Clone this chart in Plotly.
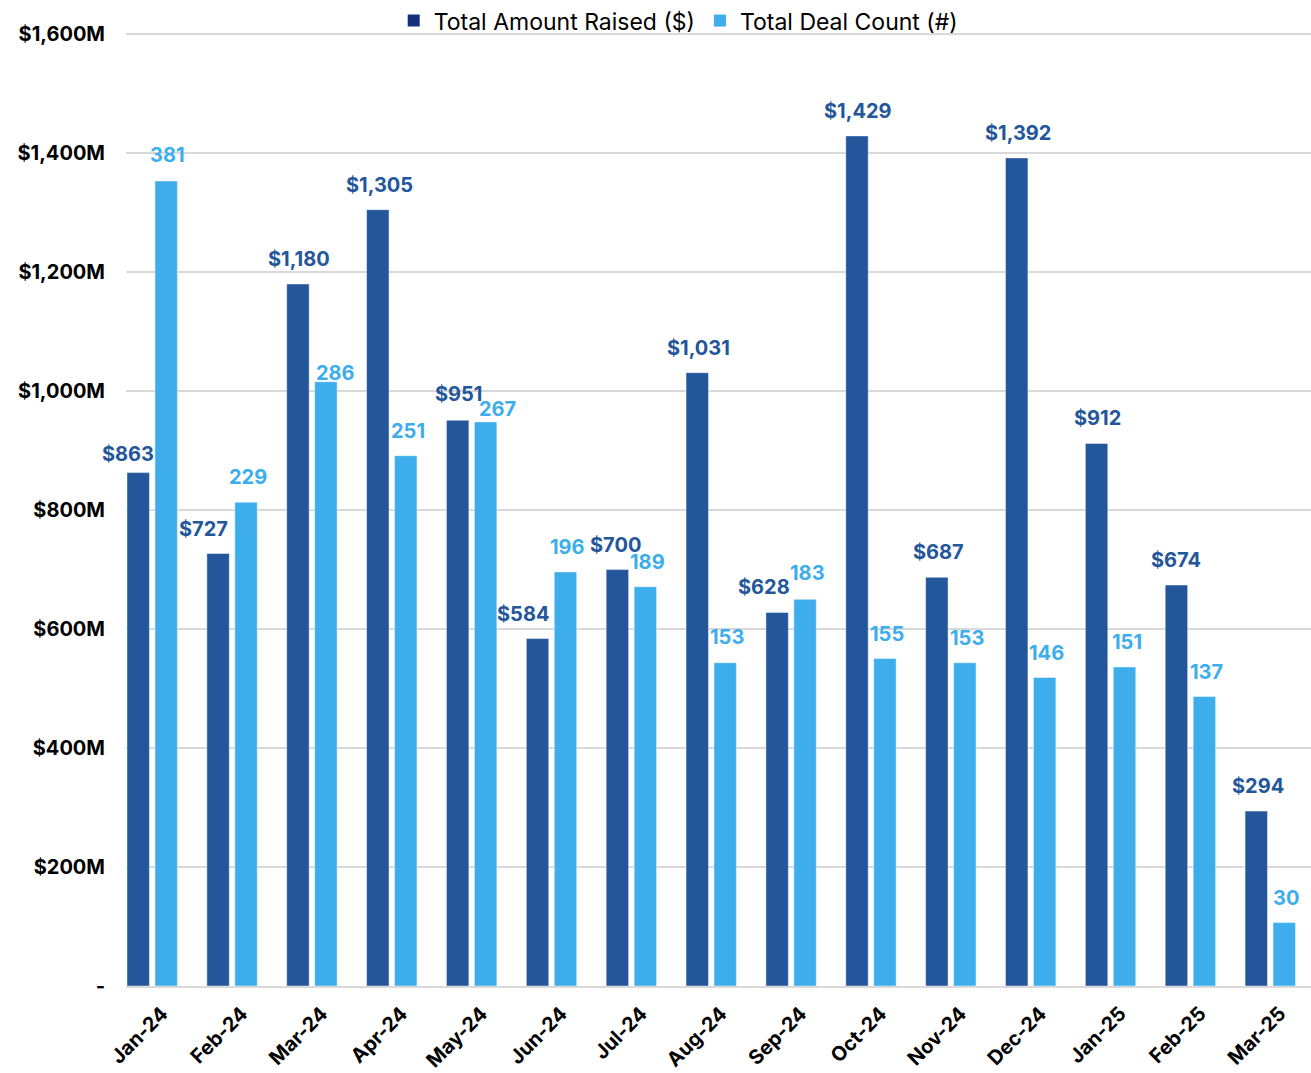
import plotly.graph_objects as go

months = ["Jan-24", "Feb-24", "Mar-24", "Apr-24", "May-24", "Jun-24", "Jul-24", "Aug-24",
          "Sep-24", "Oct-24", "Nov-24", "Dec-24", "Jan-25", "Feb-25", "Mar-25"]
amount_raised = [863, 727, 1180, 1305, 951, 584, 700, 1031, 628, 1429, 687, 1392, 912, 674, 294]
deal_count = [381, 229, 286, 251, 267, 196, 189, 153, 183, 155, 153, 146, 151, 137, 30]
y_tickvals = [0, 200, 400, 600, 800, 1000, 1200, 1400, 1600]
y_ticktext = ["-", "$200M", "$400M", "$600M", "$800M", "$1,000M", "$1,200M", "$1,400M", "$1,600M"]

# label nudges (pixels) as placed in the original
amount_label_dx = [-11, -16, 0, 0, 0, -16, -3, 0, -14, 0, 0, 0, 0, -2, 0]
amount_label_gap = [11, 17, 17, 17, 18, 17, 17, 17, 17, 17, 17, 17, 17, 17, 17]
count_label_dx = [2, 3, 11, 3, 13, 3, 3, 3, 3, 3, 3, 3, 3, 3, 3]
count_label_gap = [18, 17, 1, 17, 5, 17, 17, 18, 18, 17, 17, 17, 17, 17, 17]

DARK = "#23569B"
LIGHT = "#3DAEEB"
LEGEND_DARK = "#14307C"
FONT = "Inter, 'DejaVu Sans', sans-serif"
LABEL_SIZE = 20

Y_MAX = 1602
Y2_MAX = 450.5 * Y_MAX / 1600

fig = go.Figure()
fig.add_trace(go.Bar(
    x=months, y=amount_raised, name="Total Amount Raised ($)",
    marker=dict(color=DARK, line=dict(color="rgba(255,255,255,0.45)", width=1)),
    offset=-0.3125, width=0.281, yaxis="y", showlegend=False, hoverinfo="x+y"))
fig.add_trace(go.Bar(
    x=months, y=deal_count, name="Total Deal Count (#)",
    marker=dict(color=LIGHT, line=dict(color="rgba(255,255,255,0.45)", width=1)),
    offset=0.0375, width=0.281, yaxis="y2", showlegend=False, hoverinfo="x+y"))

# legend entries
fig.add_trace(go.Scatter(x=[None], y=[None], mode="markers", name="Total Amount Raised ($)",
                         marker=dict(symbol="square", size=12, color=LEGEND_DARK)))
fig.add_trace(go.Scatter(x=[None], y=[None], mode="markers", name="Total Deal Count (#)",
                         marker=dict(symbol="square", size=12, color=LIGHT)))

annotations = []
for i, m in enumerate(months):
    annotations.append(dict(
        x=m, y=amount_raised[i], xref="x", yref="y", text=f"${amount_raised[i]:,}",
        showarrow=False, yanchor="bottom", xanchor="center",
        xshift=amount_label_dx[i] - 0.1564 * 80,  # centre of dark bar
        yshift=amount_label_gap[i] - 6,
        font=dict(family=FONT, size=LABEL_SIZE, color=DARK, weight="bold")))
    annotations.append(dict(
        x=m, y=deal_count[i], xref="x", yref="y2", text=f"{deal_count[i]}",
        showarrow=False, yanchor="bottom", xanchor="center",
        xshift=count_label_dx[i] - 1 + 0.178 * 80,  # centre of light bar
        yshift=count_label_gap[i] - 6,
        font=dict(family=FONT, size=LABEL_SIZE, color=LIGHT, weight="bold")))

fig.update_layout(
    width=1311, height=1073,
    margin=dict(l=126, r=0, t=33, b=87, autoexpand=False),
    paper_bgcolor="white", plot_bgcolor="white",
    barmode="overlay",
    font=dict(family=FONT, color="#000000"),
    xaxis=dict(
        type="category", range=[-0.325, 14.513],
        showgrid=False, showline=True, linecolor="#D9D9D9", linewidth=2,
        tickangle=-45, ticks="", ticklabelstandoff=6, ticklabelshift=10,
        tickfont=dict(family=FONT, size=20, color="#000000", weight="bold")),
    yaxis=dict(
        range=[0, Y_MAX], tickvals=y_tickvals, ticktext=y_ticktext,
        showgrid=True, gridcolor="#D9D9D9", gridwidth=2,
        zeroline=False, showline=False, ticks="", ticklabelstandoff=20,
        tickfont=dict(family=FONT, size=20, color="#000000", weight="bold")),
    yaxis2=dict(range=[0, Y2_MAX], overlaying="y", visible=False, showgrid=False),
    legend=dict(orientation="h", x=0.466, xanchor="center", y=1.013, yanchor="middle",
                bgcolor="rgba(0,0,0,0)", font=dict(family=FONT, size=23, color="#000000"),
                itemwidth=30, tracegroupgap=0),
    annotations=annotations,
)

fig.write_html("out.html")
